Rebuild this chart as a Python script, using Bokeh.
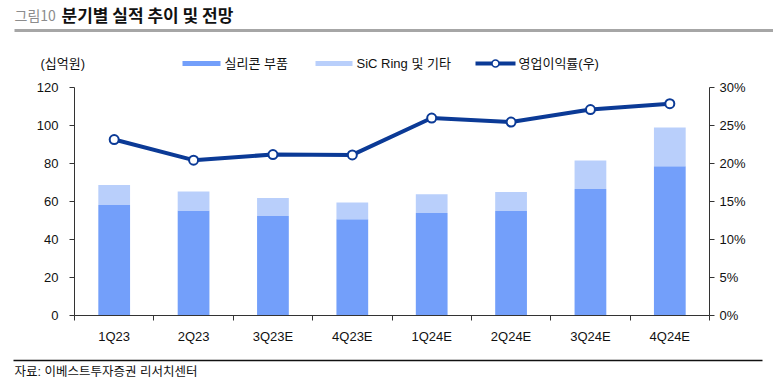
from bokeh.plotting import figure
from bokeh.models import Range1d, LinearAxis, FixedTicker, PrintfTickFormatter
from bokeh.layouts import column, row
from bokeh.core.properties import value
from bokeh.embed import file_html
from bokeh.resources import INLINE

quarters = ["1Q23", "2Q23", "3Q23E", "4Q23E", "1Q24E", "2Q24E", "3Q24E", "4Q24E"]
silicone = [58.2, 55.3, 52.4, 50.6, 54.0, 55.0, 66.6, 78.6]
sic_other = [10.5, 9.9, 9.4, 8.9, 9.8, 10.0, 15.0, 20.4]
op_margin = [23.15, 20.44, 21.18, 21.13, 25.98, 25.45, 27.1, 27.87]
left_ticks = [0, 20, 40, 60, 80, 100, 120]
right_ticks = [0, 5, 10, 15, 20, 25, 30]
series_names = ["실리콘 부품", "SiC Ring 및 기타", "영업이익률(우)"]
fig_label = "그림10"
title_text = "분기별 실적 추이 및 전망"
unit_text = "(십억원)"
source_text = "자료: 이베스트투자증권 리서치센터"

FONT = "'Liberation Sans', 'Noto Sans CJK KR', sans-serif"
KFONT = "'Noto Sans CJK KR', sans-serif"
C_SIL = "#739FFA"
C_SIC = "#B9CFFB"
C_LINE = "#0B3A96"
AX = "#333333"
TXT = "#111111"
W = 773


def blank(h):
    f = figure(width=W, height=h, output_backend="svg", toolbar_location=None,
               x_range=Range1d(0, W), y_range=Range1d(h, 0),
               x_axis_type=None, y_axis_type=None,
               min_border_left=0, min_border_right=0, min_border_top=0, min_border_bottom=0)
    f.outline_line_color = None
    f.grid.grid_line_color = None
    f.background_fill_color = "white"
    f.border_fill_color = "white"
    return f


# ---------- header: title, unit, legend ----------
hd = blank(78)
hd.text(x=[14], y=[14], text=[fig_label], text_font=value(KFONT), text_font_size="14px",
        text_color="#8C8C8C", text_baseline="middle")
hd.text(x=[61], y=[14], text=[title_text], text_font=value(KFONT), text_font_size="17px",
        text_font_style="bold", text_color=TXT, text_baseline="middle")
hd.quad(left=[14], right=[W], top=[28.5], bottom=[31.5], fill_color="#A6A6A6", line_color=None)
hd.text(x=[40], y=[63], text=[unit_text], text_font=value(FONT), text_font_size="13px",
        text_color=TXT, text_baseline="middle")
hd.quad(left=[182, 315], right=[220, 352], top=[60.5, 60.5], bottom=[65.5, 65.5],
        fill_color=[C_SIL, C_SIC], line_color=None)
hd.segment(x0=[475], y0=[63], x1=[515], y1=[63], line_color=C_LINE, line_width=4)
hd.scatter(x=[495], y=[63], marker="circle", size=7, fill_color="white",
           line_color=C_LINE, line_width=1.5)
hd.text(x=[224, 356, 518], y=[63, 63, 63], text=series_names, text_font=value(FONT),
        text_font_size="13px", text_color=TXT, text_baseline="middle")

# ---------- main chart ----------
n = len(quarters)
xs = [i + 0.5 for i in range(n)]
totals = [a + b for a, b in zip(silicone, sic_other)]

p = figure(width=W, height=268, output_backend="svg", toolbar_location=None,
           x_range=Range1d(0, n), y_range=Range1d(0, 120),
           min_border_left=74, min_border_right=64, min_border_top=9, min_border_bottom=29)
p.outline_line_color = None
p.grid.grid_line_color = None
p.background_fill_color = "white"
p.border_fill_color = "white"

p.vbar(x=xs, width=0.4, bottom=0, top=silicone, fill_color=C_SIL, line_color=None)
p.vbar(x=xs, width=0.4, bottom=silicone, top=totals, fill_color=C_SIC, line_color=None)

p.extra_y_ranges = {"pct": Range1d(0, 30)}
p.line(x=xs, y=op_margin, y_range_name="pct", line_color=C_LINE, line_width=4)
p.scatter(x=xs, y=op_margin, y_range_name="pct", marker="circle", size=9,
          fill_color="white", line_color=C_LINE, line_width=2)

xa = p.xaxis[0]
xa.ticker = FixedTicker(ticks=xs, minor_ticks=list(range(n + 1)))
xa.major_label_overrides = {x: q for x, q in zip(xs, quarters)}
xa.major_tick_out = 0
xa.major_tick_in = 0
xa.minor_tick_out = 5
xa.minor_tick_in = 0
xa.minor_tick_line_color = AX
xa.axis_line_color = AX
xa.major_label_text_font = FONT
xa.major_label_text_font_size = "13px"
xa.major_label_text_color = TXT
xa.major_label_standoff = 8

ya = p.yaxis[0]
ya.ticker = FixedTicker(ticks=left_ticks)
ya.major_tick_out = 5
ya.major_tick_in = 0
ya.minor_tick_out = 0
ya.minor_tick_in = 0
ya.axis_line_color = AX
ya.major_tick_line_color = AX
ya.major_label_text_font = FONT
ya.major_label_text_font_size = "13px"
ya.major_label_text_color = TXT
ya.major_label_standoff = 11

ra = LinearAxis(y_range_name="pct", ticker=FixedTicker(ticks=right_ticks),
                formatter=PrintfTickFormatter(format="%d%%"))
ra.major_tick_out = 5
ra.major_tick_in = 0
ra.minor_tick_out = 0
ra.minor_tick_in = 0
ra.axis_line_color = AX
ra.major_tick_line_color = AX
ra.major_label_text_font = FONT
ra.major_label_text_font_size = "13px"
ra.major_label_text_color = TXT
ra.major_label_standoff = 5
p.add_layout(ra, "right")

# ---------- footer: rule and source ----------
ft = blank(41)
ft.quad(left=[13], right=[762], top=[13.3], bottom=[14.8], fill_color=TXT, line_color=None)
ft.text(x=[14], y=[25], text=[source_text], text_font=value(FONT), text_font_size="12.5px",
        text_color=TXT, text_baseline="middle")

layout = column(row(hd), row(p), row(ft), spacing=0)
open("out.html", "w").write(file_html(layout, INLINE))
